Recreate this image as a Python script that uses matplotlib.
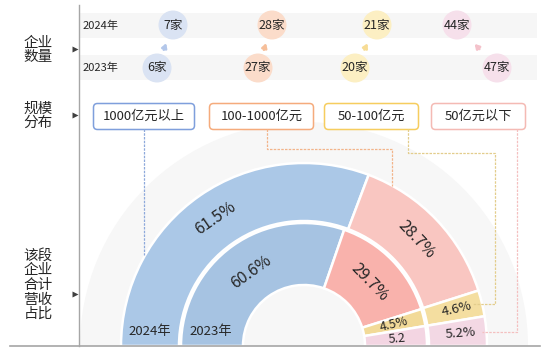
import numpy as np
import matplotlib
matplotlib.use('Agg')
import matplotlib.pyplot as plt
from matplotlib.patches import Wedge, Circle, FancyBboxPatch, Rectangle

plt.rcParams['font.family'] = ['Noto Sans CJK SC', 'DejaVu Sans']

# data
segments = ['1000亿元以上', '100-1000亿元', '50-100亿元', '50亿元以下']
count_2024 = [7, 28, 21, 44]
count_2023 = [6, 27, 20, 47]
share_2024 = [61.5, 28.7, 4.6, 5.2]
share_2023 = [60.6, 29.7, 4.5, 5.2]
years = ['2024年', '2023年']

# layout / style
x_2024 = [173, 272, 377, 457]
x_2023 = [157, 258, 355, 497]
box_x = [(93, 195), (209, 314), (324, 419), (431, 526)]
circle_colors = ['#dae3f3', '#fbdcca', '#fcefc3', '#f6e0eb']
arrow_colors = ['#b3c7ea', '#f6bf9a', '#f7dc95', '#f4c2cb']
box_colors = ['#7f9fdc', '#f5ab7c', '#f6cd5e', '#f4bab4']
line_colors = ['#8ea9db', '#f2b48a', '#e3cd8c', '#f4c0c0']
ring_out_colors = ['#abc8e7', '#f9c6c1', '#f4dea0', '#f3d8e4']
ring_in_colors = ['#a6c3e2', '#f9b2ac', '#f2da98', '#f3d5e2']
txt = '#262626'

cx, cy = 304, 346

fig = plt.figure(figsize=(5.5, 3.58), dpi=100)
ax = fig.add_axes([0, 0, 1, 1])
ax.set_xlim(0, 550)
ax.set_ylim(358, 0)
ax.axis('off')

# frame lines
ax.plot([79, 79], [5, 346], color='#a6a6a6', lw=1)
ax.plot([10, 540], [346, 346], color='#a6a6a6', lw=1.2, zorder=5)

# left labels + markers
ax.text(38, 50, '企业\n数量', ha='center', va='center', fontsize=10.5, color=txt, linespacing=1.05)
ax.text(38, 116, '规模\n分布', ha='center', va='center', fontsize=10.5, color=txt, linespacing=1.05)
ax.text(38, 285, '该段\n企业\n合计\n营收\n占比', ha='center', va='center', fontsize=10.5, color=txt, linespacing=1.05)
for yy in [49, 115, 294]:
    ax.plot(75, yy, marker='>', ms=5, color='#404040', mec='none')

# company count rows
ax.add_patch(Rectangle((80, 13), 457, 25, color='#f6f6f6', lw=0))
ax.add_patch(Rectangle((80, 55), 457, 25, color='#f6f6f6', lw=0))
ax.text(83, 25.5, years[0], ha='left', va='center', fontsize=8, color=txt)
ax.text(83, 68, years[1], ha='left', va='center', fontsize=8, color=txt)

for i in range(len(segments)):
    ax.add_patch(Circle((x_2024[i], 25), 14.5, color=circle_colors[i], lw=0, zorder=2))
    ax.add_patch(Circle((x_2023[i], 68), 14.5, color=circle_colors[i], lw=0, zorder=2))
    ax.text(x_2024[i], 25.5, f'{count_2024[i]}家', ha='center', va='center', fontsize=9, color=txt, zorder=3)
    ax.text(x_2023[i], 68, f'{count_2023[i]}家', ha='center', va='center', fontsize=9, color=txt, zorder=3)
    # small arrow from 2023 towards 2024
    dx, dy = x_2024[i] - x_2023[i], 25 - 68
    n = np.hypot(dx, dy)
    mx, my = (x_2024[i] + x_2023[i]) / 2, 46.5
    ux, uy = dx / n, dy / n
    ax.annotate('', xy=(mx + ux * 3.5, my + uy * 3.5), xytext=(mx - ux * 3.5, my - uy * 3.5),
                arrowprops=dict(arrowstyle='-|>,head_length=0.25,head_width=0.15',
                                color=arrow_colors[i], lw=1.8, shrinkA=0, shrinkB=0))

# background semicircle
ax.add_patch(Wedge((cx, cy), 224, 180, 360, color='#f7f7f7', lw=0, zorder=0))

# rings
def draw_ring(shares, r_in, r_out, colors, label_r, big_fs, small_fs, trim_last=False):
    start = 180.0
    for j, s in enumerate(shares):
        span = 180.0 * s / 100.0
        end = start - span
        ax.add_patch(Wedge((cx, cy), r_out, -start, -end, width=r_out - r_in,
                           facecolor=colors[j], edgecolor='white', lw=1.8, zorder=2))
        mid = np.deg2rad((start + end) / 2)
        if s > 10:
            rot = np.rad2deg(mid) - 90
            fs = big_fs
            rr = label_r
        else:
            rot = np.rad2deg(mid)
            fs = small_fs
            rr = label_r + 2
        lab = f'{s:g}%'
        if trim_last and j == len(shares) - 1:
            lab = f'{s:g}'
        ax.text(cx + rr * np.cos(mid), cy - rr * np.sin(mid), lab, rotation=rot,
                rotation_mode='anchor', ha='center', va='center', fontsize=fs, color=txt, zorder=4)
        start = end

draw_ring(share_2024, 125, 183, ring_out_colors, 155, 11.5, 9.5)
draw_ring(share_2023, 61, 123, ring_in_colors, 91, 11.5, 9, trim_last=True)

ax.text(cx - 154, 332, years[0], ha='center', va='center', fontsize=9.5, color=txt, zorder=4)
ax.text(cx - 93, 332, years[1], ha='center', va='center', fontsize=9.5, color=txt, zorder=4)

# scale boxes
for i, name in enumerate(segments):
    x0, x1 = box_x[i]
    ax.add_patch(FancyBboxPatch((x0 + 3, 106), x1 - x0 - 6, 21,
                                boxstyle='round,pad=2.5,rounding_size=4',
                                facecolor='white', edgecolor=box_colors[i], lw=1.1, zorder=3))
    ax.text((x0 + x1) / 2, 116.5, name, ha='center', va='center', fontsize=9.5, color=txt, zorder=4)

# connectors
paths = [
    ([144, 144], [129, 255]),
    ([267, 267, 392, 392], [129, 149, 149, 186]),
    ([408, 408, 495, 495, 472], [129, 153, 153, 304, 304]),
    ([517, 517, 482], [129, 332, 332]),
]
for i, (px, py) in enumerate(paths):
    ax.plot(px, py, color=line_colors[i], lw=0.9, ls=(0, (2, 1)), zorder=3)

fig.savefig('out.png', dpi=100)
